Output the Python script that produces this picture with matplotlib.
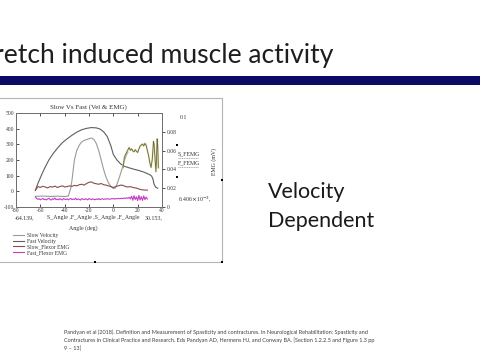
import numpy as np
import matplotlib
matplotlib.use("Agg")
import matplotlib.pyplot as plt
from matplotlib.lines import Line2D
from matplotlib.patches import Rectangle

# ---------------- data ----------------
# Fast velocity (dark arch), deg/s vs angle (deg)
fast_vel_angle = [-64.1, -62, -59, -56, -53, -50, -46, -42, -38, -34, -30, -26, -22, -18,
                  -14, -11, -8, -5, -2, 0, 3, 6, 9, 13, 17, 21, 25, 28, 30, 31.5, 32.5,
                  33.5, 35, 36.5]
fast_vel = [5, 50, 105, 155, 200, 235, 275, 310, 335, 358, 378, 393, 402, 407,
            405, 398, 380, 350, 290, 235, 200, 175, 160, 150, 141, 133, 123, 113, 106,
            97, 80, 45, 25, 20]

# Slow velocity (lighter gray, narrow peak)
slow_vel_angle = [-64.1, -58, -52, -46, -40, -37, -36, -35, -34, -32, -30, -28, -26, -24,
                  -22, -20, -18, -16, -14, -12, -10, -8, -6, -4, -2, 0, 1.5, 3, 5, 7, 9,
                  11, 12]
slow_vel = [-32, -30, -33, -31, -33, -30, -5, 20, 70, 200, 262, 295, 315, 325,
            330, 336, 340, 332, 305, 260, 200, 140, 90, 55, 30, 18, 20, 45, 90, 140, 195,
            238, 250]

# Slow flexor EMG (brown), mV
slow_emg_angle = [-64, -62, -60, -58, -56, -54, -52, -50, -48, -46, -44, -42, -40, -38,
                  -36, -34, -32, -30, -28, -26, -24, -22, -20, -18, -16, -14, -12, -10,
                  -8, -6, -4, -2, 0, 2, 4, 6, 8, 10, 12, 14, 16, 18, 20, 22, 24, 26, 28]
slow_emg = [0.0180, 0.0217, 0.0208, 0.0220, 0.0213, 0.0203, 0.0217, 0.0212, 0.0222, 0.0208,
            0.0217, 0.0225, 0.0213, 0.0217, 0.0225, 0.0220, 0.0230, 0.0225, 0.0237, 0.0242,
            0.0233, 0.0250, 0.0263, 0.0267, 0.0253, 0.0247, 0.0242, 0.0250, 0.0237, 0.0233,
            0.0225, 0.0217, 0.0208, 0.0217, 0.0225, 0.0233, 0.0230, 0.0217, 0.0213, 0.0217,
            0.0208, 0.0203, 0.0197, 0.0187, 0.0183, 0.0180, 0.0180]

# High EMG burst segment (olive), mV
burst_angle = [8, 9, 10, 11, 12, 13, 14, 15, 16, 17, 18, 19, 20, 21, 22, 23, 24, 25, 26,
               27, 28, 29, 30, 31, 32, 33, 33.5, 34, 35, 35.5, 36, 36.5, 37]
burst_emg = [0.0417, 0.0525, 0.0558, 0.0583, 0.0608, 0.0633, 0.0603, 0.0620, 0.0597,
             0.0587, 0.0610, 0.0593, 0.0580, 0.0617, 0.0647, 0.0660, 0.0670, 0.0650,
             0.0677, 0.0657, 0.0597, 0.0547, 0.0470, 0.0420, 0.0508, 0.0697, 0.0667,
             0.0567, 0.0375, 0.0517, 0.0725, 0.0650, 0.0417]

# Fast flexor EMG (magenta), mV, one sample per degree from -64 to 28
fast_emg_angle = list(range(-64, 29))
fast_emg_milli = [10.5, 9.0, 8.2, 8.8, 7.6, 8.4, 9.1, 7.9, 8.3, 7.5,
                  8.6, 9.2, 8.0, 7.4, 8.8, 8.1, 9.4, 7.8, 8.5, 7.7,
                  8.9, 8.2, 7.5, 9.0, 8.3, 7.9, 8.7, 7.6, 8.4, 9.1,
                  7.8, 8.5, 8.0, 9.3, 7.7, 8.6, 8.1, 7.4, 8.9, 8.3,
                  7.9, 8.8, 8.2, 7.6, 9.0, 8.4, 7.8, 8.7, 8.1, 7.7,
                  8.6, 8.0, 8.9, 7.8, 8.4, 8.8, 8.1, 8.6, 8.3, 8.9,
                  8.5, 8.2, 8.8, 8.6, 9.1, 8.4, 8.9, 8.7, 9.2, 8.8,
                  9.0, 9.4, 8.9, 9.6, 9.1, 9.8, 9.3, 10.2, 8.6, 11.5,
                  7.2, 12.0, 8.0, 10.8, 6.8, 12.4, 7.5, 11.0, 7.0, 11.8,
                  7.8, 10.5, 8.5]
fast_emg = [v / 1000.0 for v in fast_emg_milli]

x_ticks = [-80, -60, -40, -20, 0, 20, 40]
left_ticks = [-100, 0, 100, 200, 300, 400, 500]
right_ticks = [0, 0.02, 0.04, 0.06, 0.08]
right_labels = ["0", "0.02", "0.04", "0.06", "0.08"]
legend_labels = ["Slow Velocity", "Fast Velocity", "Slow_Flexor EMG", "Fast_Flexor EMG"]

# ---------------- figure ----------------
W, H = 480, 360
fig = plt.figure(figsize=(W / 100, H / 100), dpi=100)
fig.patch.set_facecolor("white")


def P(x, y):
    return x / W, 1 - y / H


SERIF = "Liberation Serif"

# slide title & bar
fig.text(*P(333, 63), "Stretch induced muscle activity", ha="right", va="baseline",
         fontsize=19.1, family="Lato", fontweight="normal", color="#1e1e1e")
fig.add_artist(Rectangle(P(-2, 85), (W + 4) / W, 9 / H, transform=fig.transFigure,
                         facecolor="#0b0b66", edgecolor="none"))

# chart frame
fig.add_artist(Rectangle(P(-2, 262), 224 / W, 164 / H, transform=fig.transFigure,
                         facecolor="none", edgecolor="#b5b5b5", lw=0.8))

# axes
l, r, t, b = 16, 162, 113, 207
ax = fig.add_axes([l / W, 1 - b / H, (r - l) / W, (b - t) / H])
ax2 = ax.twinx()

h1, = ax.plot(slow_vel_angle, slow_vel, color="#9a9a9a", lw=0.8)
h2, = ax.plot(fast_vel_angle, fast_vel, color="#5e5e5e", lw=0.8)
h3, = ax2.plot(slow_emg_angle, slow_emg, color="#8a4b4b", lw=0.8)
h4, = ax2.plot(fast_emg_angle, fast_emg, color="#c43cc4", lw=0.8)
ax2.plot(burst_angle, burst_emg, color="#e4dc8c", lw=1.3, alpha=0.8)
ax2.plot(burst_angle, burst_emg, color="#66664a", lw=0.6)

ax.set_xlim(-80, 40)
ax.set_ylim(-100, 500)
ax2.set_ylim(0, 0.1)
ax.set_xticks(x_ticks)
ax.set_xticklabels([str(v) for v in x_ticks])
ax.set_yticks(left_ticks)
ax.set_yticklabels([str(v) for v in left_ticks])
ax2.set_yticks(right_ticks)
ax2.set_yticklabels(right_labels)

for a in (ax, ax2):
    for s in a.spines.values():
        s.set_color("#707070")
        s.set_linewidth(0.7)
ax.tick_params(axis="both", direction="in", length=2, width=0.6, labelsize=4,
               colors="#333333", pad=1.5, top=True)
ax.tick_params(axis="x", pad=1)
ax2.tick_params(axis="y", direction="out", length=2.5, width=0.6, labelsize=4,
                colors="#333333", pad=1)
for lab in ax.get_xticklabels() + ax.get_yticklabels() + ax2.get_yticklabels():
    lab.set_family(SERIF)

# chart texts
fig.text(*P(88, 107), "Slow Vs Fast (Vel & EMG)", ha="center", va="center",
         fontsize=5, family=SERIF, color="#333333")
fig.text(*P(15, 218), "-64.139,", ha="left", va="center", fontsize=4.2, family=SERIF,
         color="#333333")
fig.text(*P(47, 218), "S_Angle ,F_Angle ,S_Angle ,F_Angle", ha="left", va="center",
         fontsize=4.2, family=SERIF, color="#333333")
fig.text(*P(145, 218), "30.153,", ha="left", va="center", fontsize=4.2, family=SERIF,
         color="#333333")
fig.text(*P(83, 228), "Angle (deg)", ha="center", va="center", fontsize=4.2,
         family=SERIF, color="#333333")
fig.text(*P(180, 118), "0.1", ha="left", va="center", fontsize=4.2, family=SERIF,
         color="#333333")
fig.text(*P(178, 154), "S_FEMG", ha="left", va="center", fontsize=4.2, family=SERIF,
         color="#333333")
fig.text(*P(178, 163), "F_FEMG", ha="left", va="center", fontsize=4.2, family=SERIF,
         color="#333333")
for yy in (158, 167):
    fig.add_artist(Line2D([178 / W, 198 / W], [1 - yy / H, 1 - yy / H],
                          transform=fig.transFigure, color="#888888", lw=0.5,
                          ls=(0, (1.5, 1))))
fig.text(*P(214, 162), "EMG (mV)", ha="center", va="center", rotation=90,
         fontsize=4.2, family=SERIF, color="#333333")
fig.text(*P(178, 199), r"6.406$\times$10$^{-3}$,", ha="left", va="center",
         fontsize=4.2, family=SERIF, color="#333333")

# selection handles
for hx, hy in [(177, 145), (177, 177), (222, 180), (95, 262), (222, 262)]:
    fig.add_artist(Rectangle(P(hx - 1, hy + 1), 2 / W, 2 / H, transform=fig.transFigure,
                             facecolor="black", edgecolor="none"))

# legend
fig.legend([h1, h2, h3, h4], legend_labels, loc="upper left",
           bbox_to_anchor=P(13, 233), frameon=False,
           prop={"family": SERIF, "size": 4}, labelcolor="#333333",
           handlelength=1.9, handletextpad=0.6, labelspacing=0.12, borderpad=0,
           borderaxespad=0)

# right-side text
fig.text(*P(268, 198), "Velocity", ha="left", va="baseline", fontsize=15.5,
         family="Lato", color="#1a1a1a")
fig.text(*P(268, 227), "Dependent", ha="left", va="baseline", fontsize=15.5,
         family="Lato", color="#1a1a1a")

# citation
cite = [
    "Pandyan et al (2018). Definition and Measurement of Spasticity and contractures. "
    "In Neurological Rehabilitation: Spasticity and",
    "Contractures in Clinical Practice and Research. Eds Pandyan AD, Hermens HJ, "
    "and Conway BA. [Section 1.2.2.5 and Figure 1.3 pp",
    "9 \u2013 13]",
]
for i, line in enumerate(cite):
    fig.text(*P(64, 334 + 8.3 * i), line, ha="left", va="baseline", fontsize=4,
             family="Lato", color="#404040")

fig.savefig("out.png", dpi=100)
